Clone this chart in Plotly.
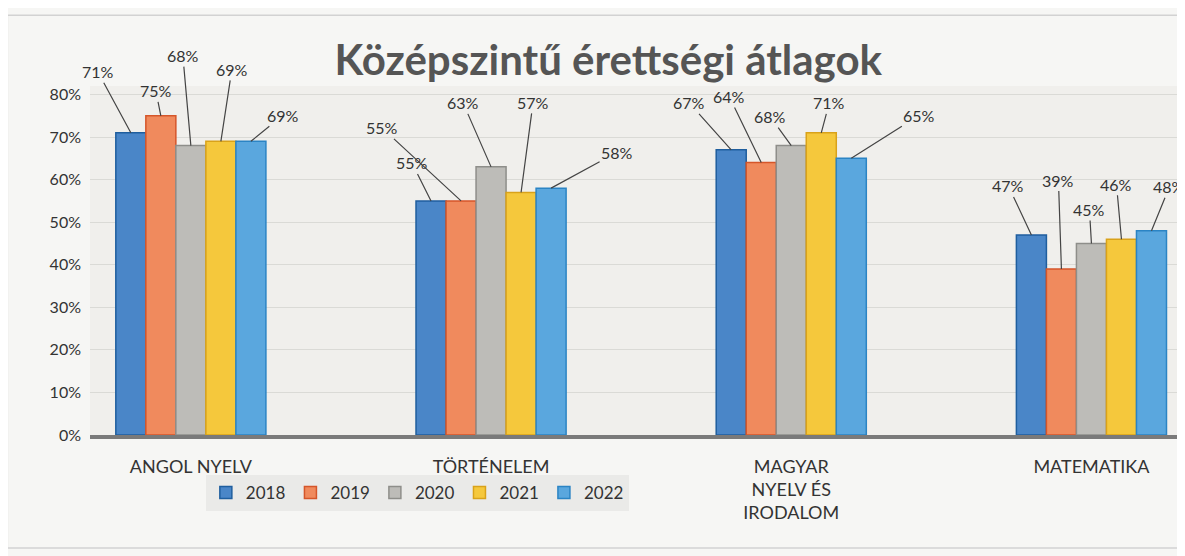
import plotly.graph_objects as go

categories = ["ANGOL NYELV", "TÖRTÉNELEM", "MAGYAR<br>NYELV ÉS<br>IRODALOM", "MATEMATIKA"]
years = ["2018", "2019", "2020", "2021", "2022"]
values = {
    "2018": [0.71, 0.55, 0.67, 0.47],
    "2019": [0.75, 0.55, 0.64, 0.39],
    "2020": [0.68, 0.63, 0.68, 0.45],
    "2021": [0.69, 0.57, 0.71, 0.46],
    "2022": [0.69, 0.58, 0.65, 0.48],
}
colors = ["#4A86C8", "#F08A5D", "#BDBCB8", "#F5C83C", "#5AA7DE"]
edges = ["#1F5E9E", "#D5562A", "#8E8E8A", "#D9A21A", "#2B84C4"]

# label offsets in pixels (style): per year, per category
label_offsets = {
    "2018": [(-33, -61), (-19, -38), (-42, -47), (-23, -49)],
    "2019": [(-5, -25), (-79, -73), (-32, -66), (-3, -89)],
    "2020": [(-8, -90), (-28, -64), (-21, -29), (-2, -34)],
    "2021": [(11, -72), (12, -90), (8, -30), (-5, -55)],
    "2022": [(32, -26), (66, -36), (68, -43), (18, -44)],
}

xs = list(range(len(categories)))
fig = go.Figure()
for k, y in enumerate(years):
    fig.add_trace(go.Bar(
        x=xs, y=values[y], name=y,
        marker=dict(color=colors[k], line=dict(color=edges[k], width=1.5)),
    ))

group_width = 0.5
bw = group_width / len(years)
for k, y in enumerate(years):
    for i, v in enumerate(values[y]):
        ax, ay = label_offsets[y][i]
        fig.add_annotation(
            x=i - group_width / 2 + bw * (k + 0.5), y=v, xref="x", yref="y",
            text=f"{round(v*100)}%", showarrow=True, arrowhead=0, arrowwidth=1.2,
            arrowcolor="#444", ax=ax, ay=ay, standoff=0,
            font=dict(size=16, color="#333", family="Lato"),
        )

fig.add_shape(type="rect", xref="paper", yref="paper",
              x0=-0.0756, x1=1.012, y0=-0.324, y1=1.203,
              line=dict(color="#D2D2D2", width=1.5), fillcolor="rgba(0,0,0,0)", layer="below")

fig.update_layout(
    width=1177, height=548,
    margin=dict(l=82, r=2, t=78, b=121),
    paper_bgcolor="#F6F6F4", plot_bgcolor="#F0EFEC",
    barmode="group", bargap=0.5, bargroupgap=0,
    title=dict(text="<b>Középszintű érettségi átlagok</b>", x=0.51, xanchor="center",
               y=0.905, yanchor="middle",
               font=dict(size=42, color="#555555", family="Lato")),
    font=dict(family="Lato", color="#333"),
    legend=dict(orientation="h", x=0.106, y=-0.166, xanchor="left", yanchor="middle",
                bgcolor="#EAEAE8", font=dict(size=17, color="#333"), itemwidth=30,
                traceorder="normal"),
    xaxis=dict(range=[-0.336, 3.305], tickvals=xs, ticktext=categories,
               showgrid=False, showline=True, linecolor="#7A7A7A", linewidth=4,
               tickfont=dict(size=18, color="#333"), ticks="", ticklabelstandoff=12),
    yaxis=dict(range=[0, 0.82], tickvals=[0, 0.1, 0.2, 0.3, 0.4, 0.5, 0.6, 0.7, 0.8],
               tickformat=".0%", showgrid=True, gridcolor="#DADAD6", gridwidth=1,
               zeroline=False, tickfont=dict(size=16, color="#333"), ticks="",
               ticklabelstandoff=8),
)
fig.write_html("out.html")
